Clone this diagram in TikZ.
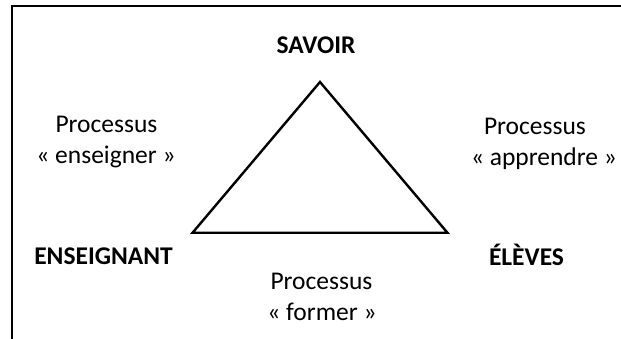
\documentclass[tikz,border=0pt]{standalone}
\usepackage{fontspec}
\setmainfont{Carlito}
\begin{document}
\begin{tikzpicture}[x=1pt,y=-1pt,
  lbl/.style={font=\fontsize{25.5}{31}\selectfont, inner sep=0pt, anchor=base},
  blbl/.style={lbl, font=\fontsize{25.5}{31}\selectfont\bfseries},
  edge/.style={line width=2.4pt, line join=miter}]
\useasboundingbox (0,0) rectangle (621,339);
% frame
\draw[line width=2pt] (12,345) -- (12,6.5) -- (630,6.5);
% triangle corners
\coordinate (S) at (320,82);
\coordinate (E) at (192.5,232.8);
\coordinate (L) at (447.5,232.8);
\draw[edge] (S) -- (L) -- (E) -- cycle;
% labels
\node[blbl] (savoir) at (316,54) {SAVOIR};
\node[blbl] (ens) at (103.5,264) {ENSEIGNANT};
\node[blbl] (elev) at (526.5,265.5) {ÉLÈVES};
\node[lbl] (pe1) at (106.5,133) {Processus};
\node[lbl] (pe2) at (106,164) {« enseigner »};
\node[lbl] (pa1) at (535,135) {Processus};
\node[lbl] (pa2) at (544,166) {« apprendre »};
\node[lbl] (pf1) at (321.5,289) {Processus};
\node[lbl] (pf2) at (322,320) {« former »};
\end{tikzpicture}
\end{document}
